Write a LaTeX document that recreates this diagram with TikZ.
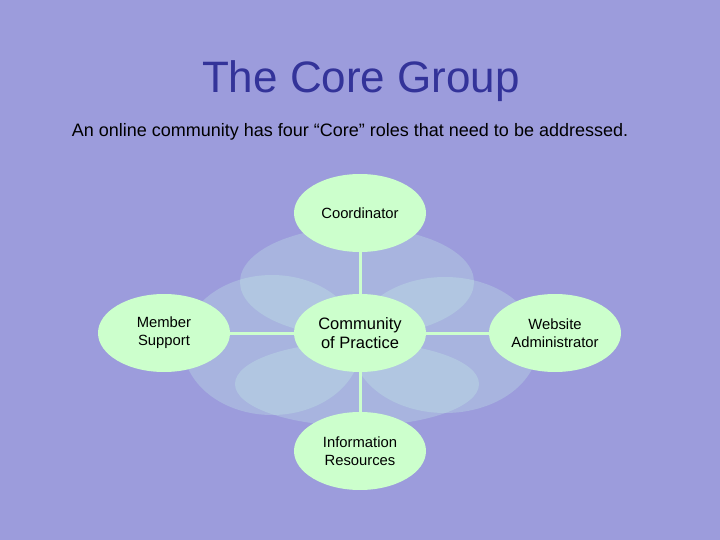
\documentclass[tikz,border=0pt]{standalone}
\usepackage{fontspec}
\setmainfont{Liberation Sans}
\usepackage{tikz}
\usetikzlibrary{shapes.geometric}

\definecolor{slidebg}{RGB}{156,156,220}
\definecolor{titleblue}{RGB}{51,51,153}
\definecolor{rolegreen}{RGB}{204,255,204}
\definecolor{blobtint}{RGB}{204,255,232}

\tikzset{
  role/.style={ellipse, fill=rolegreen, minimum width=132pt, minimum height=78pt,
    inner sep=0pt, align=center, font=\fontsize{14.8}{18}\selectfont},
  blob/.style={fill=blobtint, fill opacity=0.25},
  link/.style={draw=rolegreen, line width=3pt}
}

\begin{document}
\begin{tikzpicture}[x=1pt,y=-1pt]
           \fill[slidebg] (0,0) rectangle (720,540);
           \node[anchor=base, text=titleblue, font=\fontsize{44}{50}\selectfont] (title) at (361,93) {The Core Group};
           \node[anchor=base, font=\fontsize{18}{22}\selectfont] (intro) at (350,137) {An online community has four “Core” roles that need to be addressed.};
           \fill[blob] (357,282) ellipse (117 and 55);
           \fill[blob] (272,345) ellipse (89 and 70);
           \fill[blob] (445,345) ellipse (93 and 68);
           \fill[blob] (357,384) ellipse (122 and 42);
           \node[role, font=\fontsize{16.5}{19}\selectfont] (cop) at (360,333) {Community\\of Practice};
           \node[role] (coord) at (360,213) {Coordinator};
           \node[role] (member) at (164,333) {Member\\Support};
           \node[role] (web) at (555,333) {Website\\Administrator};
           \node[role] (info) at (360,451) {Information\\Resources};
           \draw[link] (cop.north) -- (coord.south);
           \draw[link] (cop.south) -- (info.north);
           \draw[link] (cop.west) -- (member.east);
           \draw[link] (cop.east) -- (web.west);
         \end{tikzpicture}
\end{document}
